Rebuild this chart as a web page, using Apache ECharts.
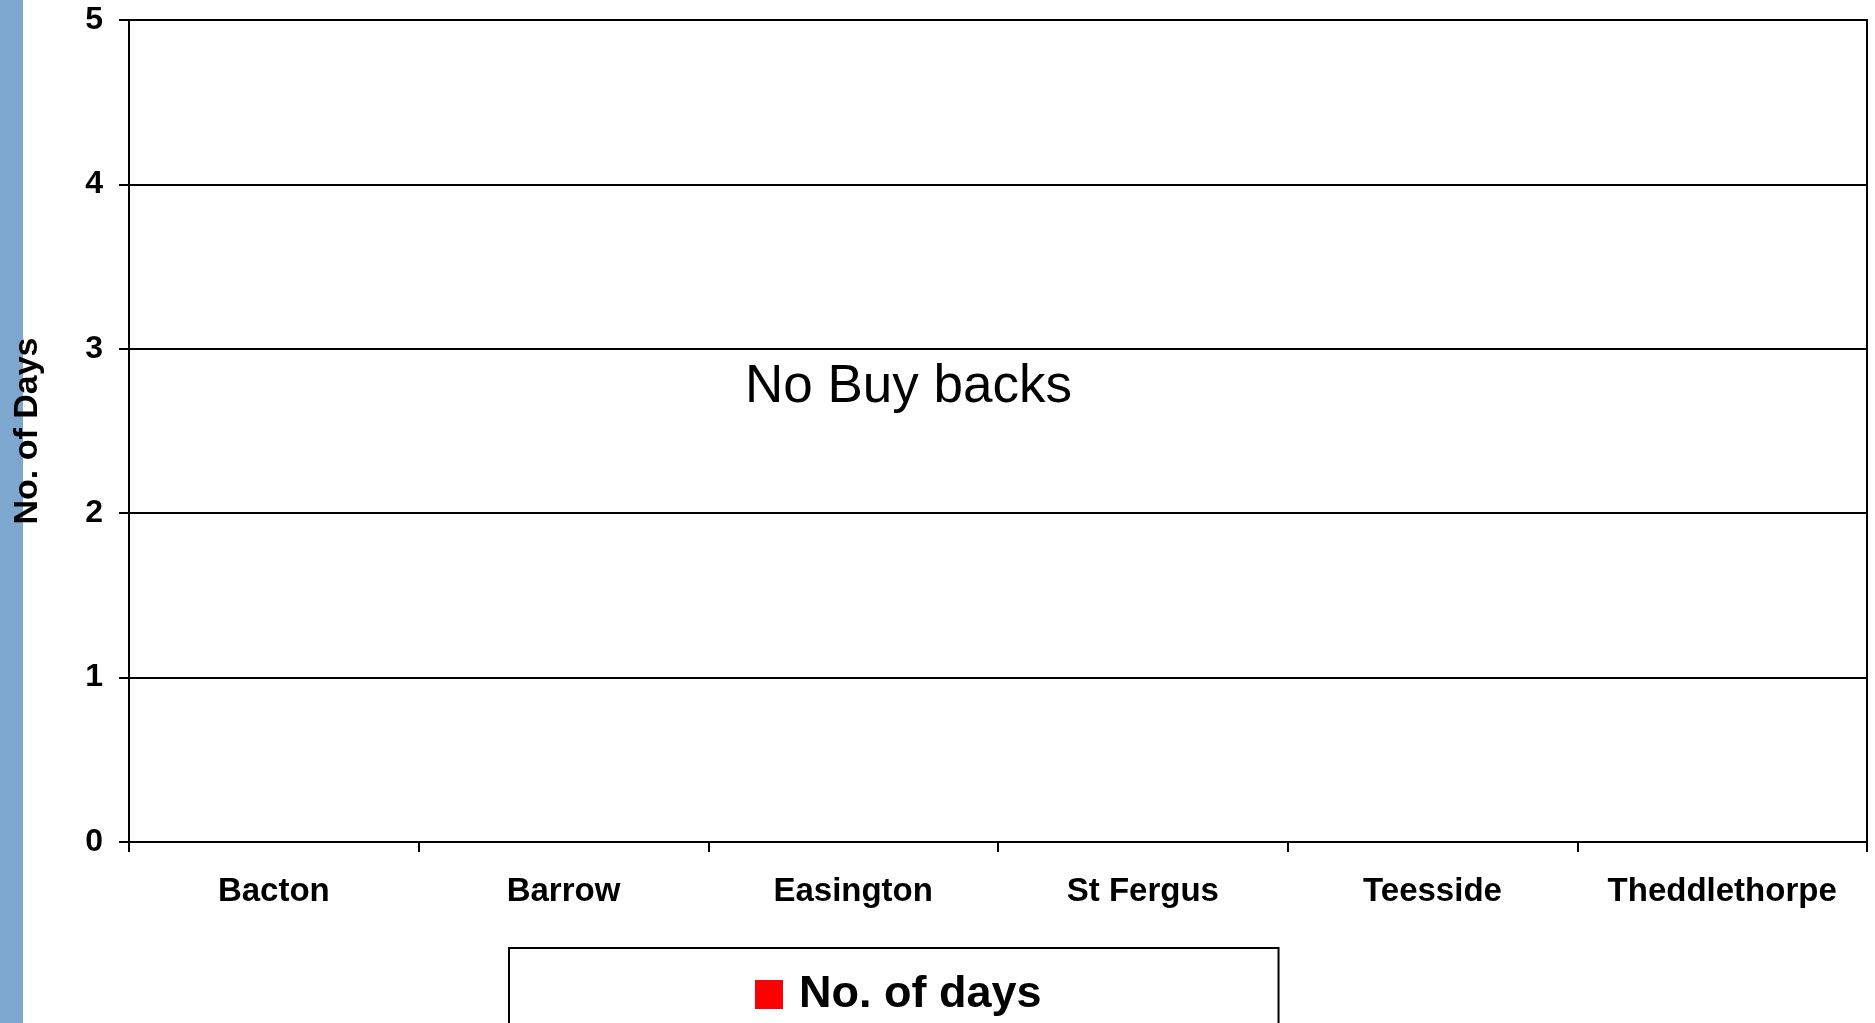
<!DOCTYPE html>
<html>
<head>
<meta charset="utf-8">
<script src="https://cdn.jsdelivr.net/npm/echarts@6/dist/echarts.min.js"></script>
<style>
  html, body { margin: 0; padding: 0; background: #fff; }
  #chart { width: 1875px; height: 1023px; }
</style>
</head>
<body>
<div id="chart"></div>
<script>
const terminals = ['Bacton', 'Barrow', 'Easington', 'St Fergus', 'Teesside', 'Theddlethorpe']
const noOfDays = [0, 0, 0, 0, 0, 0]
const yTicks = { min: 0, max: 5, interval: 1 }

const font = '"Liberation Sans", Arial, sans-serif'

const chart = echarts.init(document.getElementById('chart'))
chart.setOption({
  animation: false,
  backgroundColor: '#fff',
  grid: {
    left: 129, right: 8, top: 20, bottom: 181,
    show: true, borderColor: '#000', borderWidth: 2
  },
  xAxis: {
    type: 'category',
    data: terminals,
    axisLine: { lineStyle: { color: '#000', width: 2 } },
    axisTick: { show: true, length: 10, lineStyle: { color: '#000', width: 2 } },
    axisLabel: {
      interval: 0, hideOverlap: false,
      color: '#000', fontFamily: font, fontWeight: 'bold', fontSize: 33, margin: 33
    }
  },
  yAxis: {
    type: 'value',
    min: yTicks.min, max: yTicks.max, interval: yTicks.interval,
    name: 'No. of Days',
    nameLocation: 'middle',
    nameGap: 84,
    nameTextStyle: { color: '#000', fontFamily: font, fontWeight: 'bold', fontSize: 34 },
    axisLine: { show: true, lineStyle: { color: '#000', width: 2 } },
    axisTick: { show: true, length: 10, lineStyle: { color: '#000', width: 2 } },
    axisLabel: {
      color: '#000', fontFamily: font, fontWeight: 'bold', fontSize: 32, margin: 26,
      verticalAlign: 'middle', lineHeight: 32, padding: [7, 0, 0, 0]
    },
    splitLine: { lineStyle: { color: '#000', width: 2 } }
  },
  legend: {
    data: ['No. of days'],
    left: 509,
    top: 948,
    itemWidth: 28,
    itemHeight: 29,
    itemGap: 10,
    padding: [24, 237, 40, 246],
    borderColor: '#000',
    borderWidth: 2,
    icon: 'rect',
    textStyle: {
      color: '#000', fontFamily: font, fontWeight: 'bold', fontSize: 45,
      padding: [0, 0, 0, 11]
    }
  },
  graphic: [
    {
      type: 'rect',
      left: 0, top: 0, z: -1,
      shape: { width: 23, height: 1023 },
      style: { fill: '#7ea7cf' }
    },
    {
      type: 'text',
      left: 745, top: 361,
      style: { text: 'No Buy backs', fill: '#000', font: '53px ' + font }
    }
  ],
  series: [
    {
      name: 'No. of days',
      type: 'bar',
      data: noOfDays,
      itemStyle: { color: '#ff0000' }
    }
  ]
})
</script>
</body>
</html>
